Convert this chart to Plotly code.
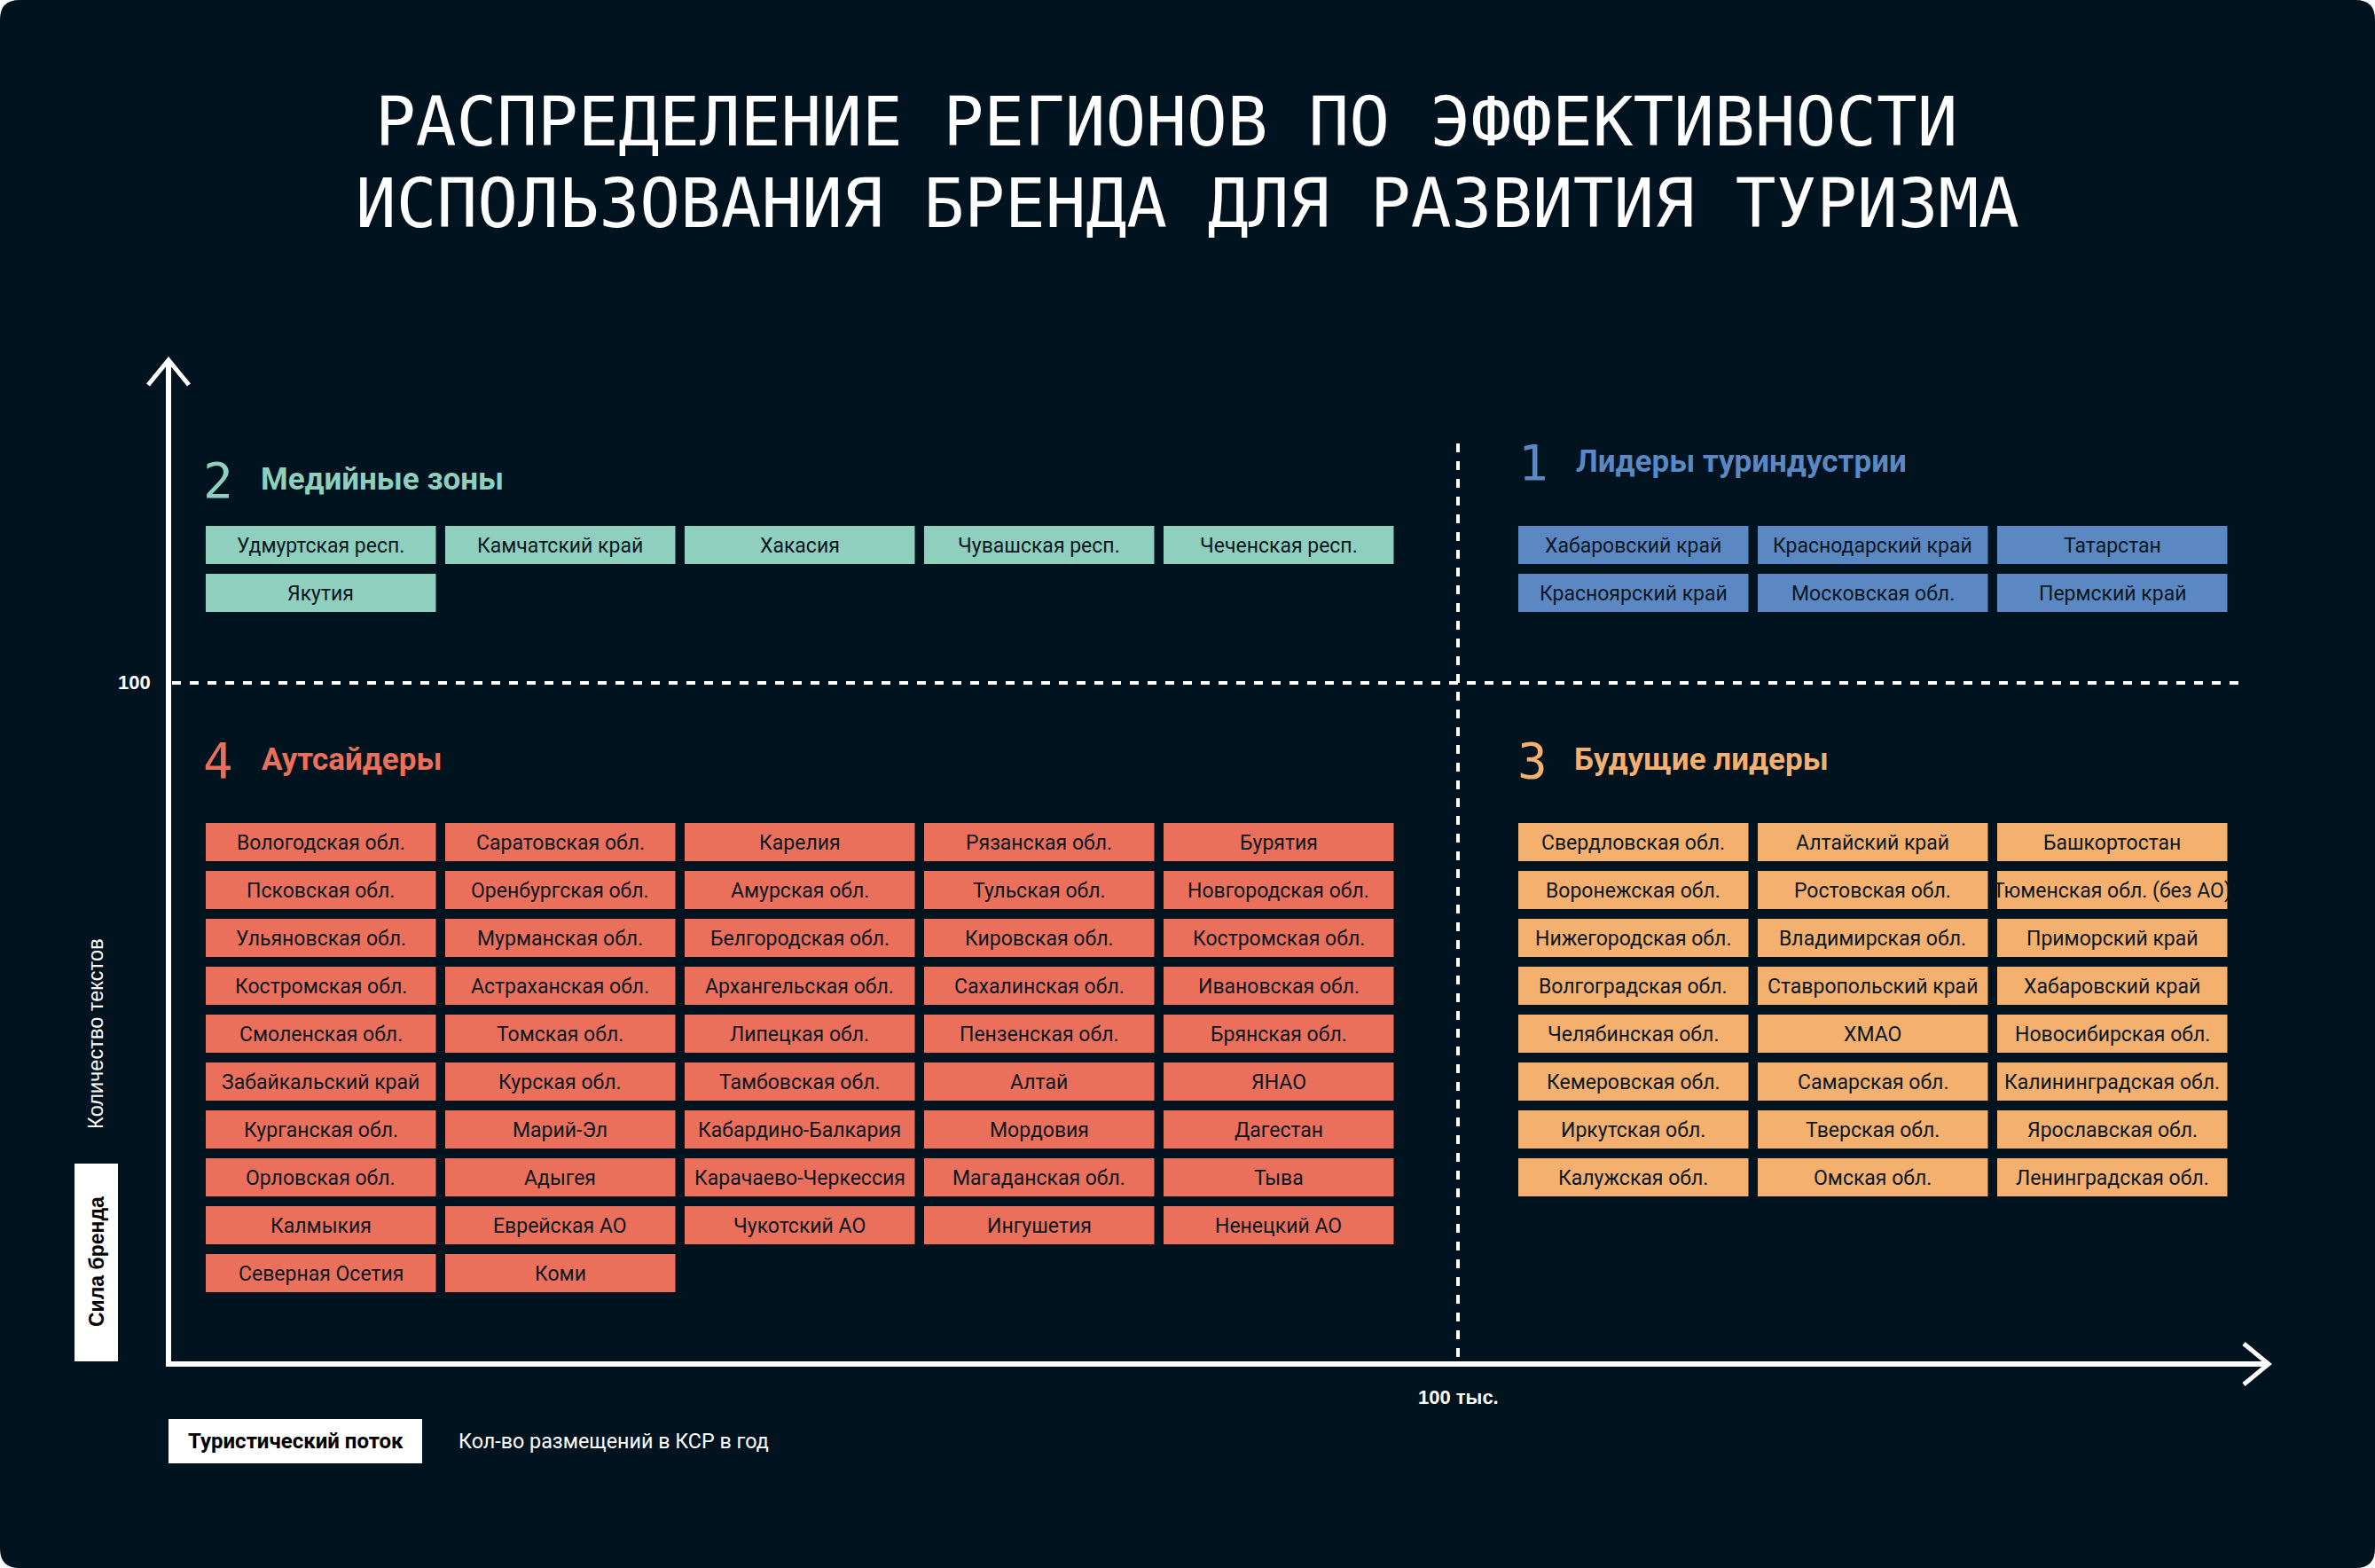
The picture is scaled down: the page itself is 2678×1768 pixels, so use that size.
import plotly.graph_objects as go

# ---------------- data ----------------
title_line1 = "РАСПРЕДЕЛЕНИЕ РЕГИОНОВ ПО ЭФФЕКТИВНОСТИ"
title_line2 = "ИСПОЛЬЗОВАНИЯ БРЕНДА ДЛЯ РАЗВИТИЯ ТУРИЗМА"

leaders = ["Хабаровский край", "Краснодарский край", "Татарстан",
           "Красноярский край", "Московская обл.", "Пермский край"]
media = ["Удмуртская респ.", "Камчатский край", "Хакасия", "Чувашская респ.",
         "Чеченская респ.", "Якутия"]
future = ["Свердловская обл.", "Алтайский край", "Башкортостан",
          "Воронежская обл.", "Ростовская обл.", "Тюменская обл. (без АО)",
          "Нижегородская обл.", "Владимирская обл.", "Приморский край",
          "Волгоградская обл.", "Ставропольский край", "Хабаровский край",
          "Челябинская обл.", "ХМАО", "Новосибирская обл.",
          "Кемеровская обл.", "Самарская обл.", "Калининградская обл.",
          "Иркутская обл.", "Тверская обл.", "Ярославская обл.",
          "Калужская обл.", "Омская обл.", "Ленинградская обл."]
outsiders = ["Вологодская обл.", "Саратовская обл.", "Карелия", "Рязанская обл.", "Бурятия",
             "Псковская обл.", "Оренбургская обл.", "Амурская обл.", "Тульская обл.", "Новгородская обл.",
             "Ульяновская обл.", "Мурманская обл.", "Белгородская обл.", "Кировская обл.", "Костромская обл.",
             "Костромская обл.", "Астраханская обл.", "Архангельская обл.", "Сахалинская обл.", "Ивановская обл.",
             "Смоленская обл.", "Томская обл.", "Липецкая обл.", "Пензенская обл.", "Брянская обл.",
             "Забайкальский край", "Курская обл.", "Тамбовская обл.", "Алтай", "ЯНАО",
             "Курганская обл.", "Марий-Эл", "Кабардино-Балкария", "Мордовия", "Дагестан",
             "Орловская обл.", "Адыгея", "Карачаево-Черкессия", "Магаданская обл.", "Тыва",
             "Калмыкия", "Еврейская АО", "Чукотский АО", "Ингушетия", "Ненецкий АО",
             "Северная Осетия", "Коми"]

quadrant_numbers = ["1", "2", "3", "4"]
quadrant_titles = ["Лидеры туриндустрии", "Медийные зоны", "Будущие лидеры", "Аутсайдеры"]

y_threshold_label = "100"
x_threshold_label = "100 тыс."
y_axis_title = "Сила бренда"
y_axis_sub = "Количество текстов"
x_axis_title = "Туристический поток"
x_axis_sub = "Кол-во размещений в КСР в год"

# ---------------- styles ----------------
W, H = 2678, 1768
BG = "#01131f"
C_BLUE = "#5b88c2"
C_TEAL = "#8ecfbe"
C_ORANGE = "#f3b06f"
C_RED = "#eb705c"
BOX_TEXT = "#0b1721"
WHITE = "#ffffff"

BOX_FONT = "Roboto, 'Liberation Sans Narrow', Arial, sans-serif"
HEAD_FONT = "Roboto, 'DejaVu Sans Condensed', sans-serif"
NUM_FONT = "'DejaVu Sans Mono', 'Liberation Mono', monospace"
LABEL_FONT = "'Liberation Sans', Arial, sans-serif"

LEFT_X0, RIGHT_X0 = 232, 1712
COL_PITCH, BOX_W = 270, 259.5
TOP_Y0, BOT_Y0 = 593, 928
ROW_PITCH, BOX_H = 54, 43

AXIS_X, AXIS_Y = 190, 1538
THRESH_X, THRESH_Y = 1644, 770

shapes = []
annotations = []

# background card with rounded corners
r = 22
shapes.append(dict(
    type="path", xref="x", yref="y", layer="below",
    path=(f"M{r},0 L{W-r},0 Q{W},0 {W},{r} L{W},{H-r} Q{W},{H} {W-r},{H} "
          f"L{r},{H} Q0,{H} 0,{H-r} L0,{r} Q0,0 {r},0 Z"),
    fillcolor=BG, line=dict(width=0)))


def add_grid(names, x0, y0, ncols, color):
    for i, name in enumerate(names):
        c, rr = i % ncols, i // ncols
        bx = x0 + c * COL_PITCH
        by = y0 + rr * ROW_PITCH
        shapes.append(dict(type="rect", xref="x", yref="y", x0=bx, x1=bx + BOX_W,
                           y0=by, y1=by + BOX_H, fillcolor=color, line=dict(width=0),
                           layer="below"))
        annotations.append(dict(x=bx + BOX_W / 2, y=by + BOX_H / 2 + 1, xref="x", yref="y",
                                text=name, showarrow=False, xanchor="center", yanchor="middle",
                                font=dict(family=BOX_FONT, size=23, color=BOX_TEXT)))


add_grid(leaders, RIGHT_X0, TOP_Y0, 3, C_BLUE)
add_grid(media, LEFT_X0, TOP_Y0, 5, C_TEAL)
add_grid(future, RIGHT_X0, BOT_Y0, 3, C_ORANGE)
add_grid(outsiders, LEFT_X0, BOT_Y0, 5, C_RED)

# quadrant headers
head_pos = [(1713, 1777, 520, C_BLUE), (230, 294, 540, C_TEAL),
            (1712, 1775, 856, C_ORANGE), (230, 295, 856, C_RED)]
for num, ttl, (nx, tx, cy, col) in zip(quadrant_numbers, quadrant_titles, head_pos):
    annotations.append(dict(x=nx - 3, y=cy + 1, xref="x", yref="y", text=num, showarrow=False,
                            xanchor="left", yanchor="middle",
                            font=dict(family=NUM_FONT, size=56, color=col)))
    annotations.append(dict(x=tx - 2, y=cy, xref="x", yref="y", text=f"<b>{ttl}</b>",
                            showarrow=False, xanchor="left", yanchor="middle",
                            font=dict(family=HEAD_FONT, size=35, color=col)))

# title
annotations.append(dict(x=1315, y=137, xref="x", yref="y", text=title_line1, showarrow=False,
                        xanchor="center", yanchor="middle",
                        font=dict(family=NUM_FONT, size=76, color=WHITE)))
annotations.append(dict(x=1339, y=229, xref="x", yref="y", text=title_line2, showarrow=False,
                        xanchor="center", yanchor="middle",
                        font=dict(family=NUM_FONT, size=76, color=WHITE)))

# dashed threshold lines
shapes.append(dict(type="line", xref="x", yref="y", x0=194, x1=2524, y0=THRESH_Y, y1=THRESH_Y,
                   line=dict(color=WHITE, width=4, dash="10px,10px")))
shapes.append(dict(type="line", xref="x", yref="y", x0=THRESH_X, x1=THRESH_X, y0=500, y1=AXIS_Y,
                   line=dict(color=WHITE, width=4, dash="10px,10px")))

# axes with arrows
shapes.append(dict(type="path", xref="x", yref="y",
                   path=f"M{AXIS_X},407 L{AXIS_X},{AXIS_Y} L2557,{AXIS_Y}",
                   line=dict(color=WHITE, width=6)))
shapes.append(dict(type="path", xref="x", yref="y",
                   path=f"M{AXIS_X-23},434 L{AXIS_X},406 L{AXIS_X+23},434",
                   line=dict(color=WHITE, width=5)))
shapes.append(dict(type="path", xref="x", yref="y",
                   path=f"M2530,{AXIS_Y-23} L2558,{AXIS_Y} L2530,{AXIS_Y+23}",
                   line=dict(color=WHITE, width=5)))

# threshold labels
annotations.append(dict(x=172, y=769, xref="x", yref="y", text=f"<b>{y_threshold_label}</b>",
                        showarrow=False, xanchor="right", yanchor="middle",
                        font=dict(family=LABEL_FONT, size=22, color=WHITE)))
annotations.append(dict(x=THRESH_X, y=1575, xref="x", yref="y", text=f"<b>{x_threshold_label}</b>",
                        showarrow=False, xanchor="center", yanchor="middle",
                        font=dict(family=LABEL_FONT, size=22, color=WHITE)))

# y axis titles
annotations.append(dict(x=108, y=1166, xref="x", yref="y", text=y_axis_sub, showarrow=False,
                        textangle=-90, xanchor="center", yanchor="middle",
                        font=dict(family=LABEL_FONT, size=23.5, color=WHITE)))
shapes.append(dict(type="rect", xref="x", yref="y", x0=84, x1=133, y0=1312, y1=1535,
                   fillcolor=WHITE, line=dict(width=0)))
annotations.append(dict(x=109, y=1423, xref="x", yref="y", text=f"<b>{y_axis_title}</b>",
                        showarrow=False, textangle=-90, xanchor="center", yanchor="middle",
                        font=dict(family=LABEL_FONT, size=23, color="#000000")))

# x axis titles
shapes.append(dict(type="rect", xref="x", yref="y", x0=190, x1=476, y0=1600, y1=1650,
                   fillcolor=WHITE, line=dict(width=0)))
annotations.append(dict(x=333, y=1625, xref="x", yref="y", text=f"<b>{x_axis_title}</b>",
                        showarrow=False, xanchor="center", yanchor="middle",
                        font=dict(family=BOX_FONT, size=24, color="#000000")))
annotations.append(dict(x=515, y=1625, xref="x", yref="y", text=x_axis_sub,
                        showarrow=False, xanchor="left", yanchor="middle",
                        font=dict(family=BOX_FONT, size=23.3, color=WHITE)))

fig = go.Figure()
fig.add_trace(go.Scatter(x=[0, W], y=[0, H], mode="markers",
                         marker=dict(opacity=0), hoverinfo="skip", showlegend=False))
fig.update_layout(
    width=W, height=H,
    margin=dict(l=0, r=0, t=0, b=0, pad=0),
    paper_bgcolor="#ffffff", plot_bgcolor="rgba(0,0,0,0)",
    xaxis=dict(range=[0, W], visible=False, fixedrange=True),
    yaxis=dict(range=[H, 0], visible=False, fixedrange=True),
    shapes=shapes, annotations=annotations, showlegend=False,
)
fig.write_html("out.html", config={"displayModeBar": False})
